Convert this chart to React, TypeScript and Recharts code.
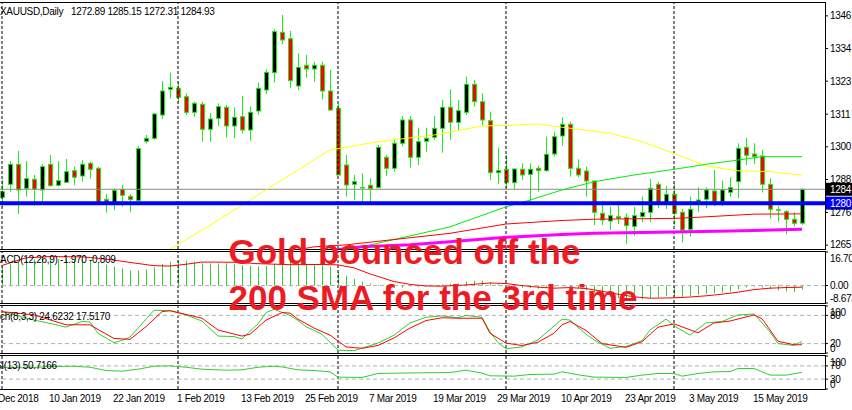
import React from "react";
import { ComposedChart, Bar, Line, XAxis, YAxis, ReferenceLine } from "recharts";

const FONT = '"Liberation Sans", Arial, sans-serif';
const EDGE = "#18ee18";
const OSC_GREEN = "#32cd32";

// XAUUSD daily bars, 2 Jan 2019 .. 23 May 2019
const opens = [
  1282.09, 1286.7, 1293.8, 1285.28, 1288.48, 1284.68, 1293.8, 1286.35, 1287.41, 1291.53,
  1289.65, 1294.16, 1292.38, 1281.38, 1279.96, 1284.93, 1282.44, 1280.88, 1301.97, 1303.03,
  1311.3, 1320.43, 1320.78, 1317.8, 1312.26, 1315.1, 1306.23, 1310.13, 1314.04, 1307.4,
  1310.7, 1305.98, 1312.72, 1320.18, 1326.32, 1340.66, 1338.39, 1321.6, 1328.95, 1327.63,
  1328.95, 1319.82, 1313.68, 1293.55, 1286.7, 1285.6, 1286.35, 1285.5, 1296.29, 1292.38,
  1301.26, 1309.53, 1296.29, 1301.97, 1303.39, 1306.58, 1314.04, 1308.71, 1312.26, 1322.2,
  1316.03, 1309.28, 1290.82, 1292.03, 1287.27, 1292.03, 1290.25, 1292.38, 1291.53, 1297.46,
  1303.85, 1308.0, 1292.38, 1291.42, 1287.87, 1276.41, 1273.67, 1275.2, 1274.99, 1271.72,
  1275.2, 1276.76, 1286.7, 1279.96, 1283.15, 1276.76, 1270.73, 1280.53, 1281.38, 1284.32,
  1280.53, 1283.86, 1287.63, 1299.84, 1297.46, 1296.75, 1286.7, 1277.69, 1276.98, 1274.28,
  1272.89,
];
const highs = [
  1288.23, 1294.97, 1298.52, 1294.97, 1290.0, 1293.91, 1297.1, 1294.97, 1295.68, 1292.95,
  1295.33, 1294.73, 1292.95, 1283.26, 1285.28, 1286.45, 1283.26, 1300.3, 1304.2, 1312.12,
  1323.37, 1326.32, 1322.91, 1319.01, 1316.03, 1316.03, 1312.01, 1315.46, 1314.85, 1314.04,
  1318.05, 1314.25, 1322.77, 1327.53, 1341.73, 1346.8, 1341.13, 1333.21, 1332.6, 1330.23,
  1330.23, 1327.28, 1315.21, 1297.1, 1290.0, 1290.61, 1288.83, 1300.65, 1297.1, 1302.43,
  1310.95, 1310.95, 1306.8, 1306.8, 1310.95, 1316.63, 1320.43, 1316.63, 1324.9, 1323.73,
  1319.01, 1312.48, 1299.7, 1297.1, 1292.38, 1294.16, 1294.16, 1293.31, 1303.6, 1305.38,
  1310.49, 1308.93, 1295.58, 1292.95, 1288.23, 1279.35, 1278.75, 1279.6, 1276.41, 1278.64,
  1282.37, 1288.58, 1287.63, 1286.1, 1287.06, 1277.93, 1282.3, 1285.64, 1285.64, 1291.78,
  1287.98, 1289.19, 1301.26, 1303.25, 1301.26, 1298.88, 1288.83, 1278.82, 1277.58, 1276.76,
  1285.15,
];
const lows = [
  1278.54, 1284.08, 1276.16, 1282.3, 1279.11, 1280.06, 1285.85, 1285.9, 1287.2, 1286.45,
  1287.63, 1288.58, 1280.3, 1276.62, 1277.58, 1278.75, 1276.76, 1279.96, 1301.26, 1302.43,
  1309.88, 1317.09, 1315.81, 1311.3, 1310.7, 1301.83, 1301.83, 1307.4, 1303.39, 1303.14,
  1304.81, 1302.18, 1311.3, 1318.76, 1322.77, 1336.4, 1320.78, 1320.18, 1324.69, 1323.13,
  1316.88, 1312.72, 1289.9, 1282.3, 1281.13, 1280.53, 1280.53, 1285.28, 1289.65, 1291.18,
  1300.05, 1292.6, 1293.55, 1298.28, 1302.43, 1297.92, 1302.43, 1305.98, 1311.3, 1314.25,
  1307.75, 1288.23, 1286.7, 1285.28, 1284.93, 1288.23, 1280.53, 1284.08, 1291.18, 1296.5,
  1300.41, 1289.4, 1289.19, 1282.3, 1272.25, 1272.25, 1270.48, 1272.61, 1265.51, 1268.46,
  1273.32, 1273.32, 1278.18, 1277.93, 1272.25, 1265.97, 1268.1, 1276.87, 1278.18, 1279.0,
  1279.0, 1282.3, 1281.73, 1293.55, 1293.91, 1283.79, 1274.63, 1273.43, 1268.95, 1271.65,
  1272.31,
];
const closes = [
  1284.07, 1293.8, 1284.68, 1288.69, 1284.93, 1292.95, 1286.21, 1287.98, 1291.18, 1289.19,
  1293.8, 1292.03, 1280.42, 1280.42, 1284.57, 1282.8, 1281.24, 1299.34, 1303.03, 1311.66,
  1319.82, 1321.14, 1317.59, 1312.26, 1315.46, 1306.23, 1309.88, 1314.25, 1307.4, 1310.49,
  1305.98, 1312.26, 1320.78, 1326.46, 1340.88, 1337.93, 1323.48, 1328.24, 1327.63, 1328.95,
  1319.82, 1313.08, 1290.0, 1286.45, 1287.63, 1285.4, 1285.14, 1299.84, 1292.38, 1301.26,
  1309.53, 1296.29, 1301.83, 1303.03, 1306.58, 1314.04, 1308.71, 1312.83, 1322.2, 1316.03,
  1309.53, 1290.82, 1291.53, 1287.27, 1292.13, 1290.0, 1292.03, 1291.53, 1297.35, 1303.6,
  1308.0, 1292.38, 1290.0, 1287.87, 1276.76, 1274.03, 1275.56, 1274.63, 1272.01, 1275.56,
  1276.69, 1285.28, 1279.6, 1283.15, 1276.41, 1270.48, 1277.83, 1281.13, 1284.68, 1280.53,
  1284.68, 1285.5, 1299.48, 1297.0, 1296.5, 1286.7, 1277.83, 1277.48, 1274.28, 1272.86,
  1284.93,
];

// date captions under the bottom pane, by bar index
const dateTickBars = [-2, 6, 14, 22, 30, 38, 46, 54, 62, 70, 78, 86, 94];
const dateTickLabels = [
  "28 Dec 2018", "10 Jan 2019", "22 Jan 2019", "1 Feb 2019", "13 Feb 2019", "25 Feb 2019",
  "7 Mar 2019", "19 Mar 2019", "29 Mar 2019", "10 Apr 2019", "23 Apr 2019", "3 May 2019",
  "15 May 2019",
];
// first bar of Jan, Feb, Mar, Apr, May (period separators)
const monthStartBars = [0, 22, 42, 63, 84];

const priceTicks = [1346.5, 1334.9, 1323.3, 1311.6, 1300.0, 1288.4, 1276.7, 1265.1];
const supportLevel = 1280;

// moving averages, [bar, price]
const maYellow = [
  [19, 1260.3], [21, 1263.7], [25, 1270.4], [31, 1281.1], [37, 1291.8], [41, 1298.9],
  [47, 1301.8], [54, 1304.2], [60, 1307.4], [64, 1307.7], [67, 1308.1], [71, 1306.6],
  [76, 1304.8], [80, 1301.8], [84, 1297.7], [88, 1293.2], [92, 1291.5], [96, 1291.2],
  [100, 1290.0],
];
const maGreen = [
  [43, 1262.6], [45, 1264.5], [56, 1271.6], [63, 1278.7], [66, 1281.1], [70, 1284.7],
  [74, 1287.6], [79, 1290.0], [84, 1292.0], [88, 1293.8], [92, 1295.3], [95, 1296.5],
  [100, 1296.5],
];
const maRed = [
  [37, 1263.5], [39, 1264.5], [43, 1265.2], [56, 1269.3], [63, 1272.6], [70, 1273.85],
  [74, 1274.3], [84, 1274.6], [87, 1275.0], [94, 1276.1], [100, 1276.2],
];
const sma200 = [
  [41, 1263.2], [45, 1264.5], [51, 1265.2], [56, 1266.3], [63, 1267.9], [70, 1268.9],
  [74, 1269.3], [82, 1269.7], [91, 1270.1], [100, 1270.7],
];

// MACD(12,26,9): main line per bar (histogram), signal line
const macdMain = [
  9.5, 10.8, 11.6, 12.4, 12.8, 13.2, 13.0, 13.1, 13.3, 13.0,
  12.9, 12.6, 11.5, 10.4, 9.4, 8.6, 7.4, 7.4, 8.1, 9.1,
  10.7, 11.9, 12.4, 12.4, 11.9, 11.1, 11.0, 11.0, 11.0, 10.6,
  10.2, 9.8, 9.4, 9.8, 10.7, 11.9, 12.2, 11.5, 10.9, 10.5,
  10.2, 9.4, 6.8, 4.9, 3.3, 2.0, 0.9, 0.4, -0.6, -1.2,
  -1.0, -0.5, -0.6, -0.4, 0.0, 0.6, 0.9, 1.1, 1.9, 2.4,
  2.5, 1.4, 0.6, -0.2, -0.7, -1.1, -1.3, -1.5, -1.2, -0.6,
  0.0, -0.8, -1.5, -2.3, -3.8, -4.9, -5.6, -6.2, -6.7, -6.9,
  -6.8, -6.1, -5.8, -5.3, -5.4, -5.6, -5.1, -4.6, -4.1, -3.7,
  -3.4, -3.0, -1.8, -1.0, -0.5, -0.9, -1.8, -2.4, -2.9, -3.2,
  -1.97,
];
const macdSignal = [
  [0, 10.0], [3, 13.8], [6, 14.4], [10, 14.3], [13, 13.2], [16, 11.5], [19, 9.9], [21, 9.7],
  [23, 10.6], [25, 11.7], [29, 11.6], [32, 10.9], [36, 10.4], [40, 10.5], [42, 10.3],
  [44, 8.8], [46, 5.8], [49, 2.0], [51, 0.6], [53, -0.2], [55, -0.3], [58, 0.3], [61, 1.3],
  [63, 1.0], [65, 0.0], [67, -0.8], [69, -1.3], [71, -1.0], [73, -1.5], [75, -2.8],
  [77, -4.3], [79, -5.6], [81, -6.3], [84, -6.1], [86, -5.7], [88, -5.1], [90, -4.3],
  [92, -3.3], [94, -2.0], [96, -1.3], [98, -1.0], [100, -0.809],
];
const macdTicks = [16.7, 0, -8.673];
const macdTickLabels = ["16.70", "0.00", "-8.673"];

// Stochastic(8,3,3)
const stochMain = [
  [0, 88], [4, 70], [6, 63], [8, 55], [10, 67], [11, 66], [12, 42], [14, 22], [15, 27],
  [16, 34], [19, 91], [21, 90], [23, 81], [25, 68], [27, 36], [29, 35], [30, 30], [32, 62],
  [33, 86], [34, 93], [36, 80], [37, 69], [38, 56], [40, 40], [42, 6], [44, 5], [47, 21],
  [49, 38], [51, 64], [53, 76], [55, 79], [57, 75], [58, 80], [60, 76], [61, 45], [62, 22],
  [63, 9], [65, 13], [67, 28], [70, 72], [71, 70], [73, 40], [74, 28], [76, 10], [78, 14],
  [80, 26], [81, 49], [83, 72], [84, 58], [86, 38], [88, 64], [90, 67], [92, 81], [94, 83],
  [96, 45], [97, 20], [99, 16], [100, 24.6232],
];
const stochSignal = [
  [0, 88], [4, 81], [8, 60], [11, 60], [12, 50], [14, 31], [16, 29], [18, 56], [20, 88],
  [21, 90], [25, 74], [27, 49], [30, 36], [31, 40], [33, 70], [35, 86], [36, 85], [37, 72],
  [39, 53], [41, 38], [43, 13], [45, 10], [47, 16], [49, 32], [51, 53], [53, 69], [55, 75],
  [57, 74], [60, 74], [61, 42], [63, 21], [65, 16], [67, 23], [69, 42], [70, 60], [71, 67],
  [73, 48], [75, 20], [78, 12], [80, 24], [82, 55], [84, 62], [87, 43], [89, 64], [91, 68],
  [94, 81], [95, 73], [97, 25], [99, 17.5], [100, 17.517],
];
const stochTicks = [100, 80, 20, 0];

// RSI(13)
const rsi13 = [
  [0, 66], [3, 64], [6, 68], [9, 69], [11, 66], [13, 56], [15, 54], [17, 60], [19, 69],
  [21, 70], [23, 66], [25, 60], [28, 57], [30, 58], [32, 66], [34, 69], [35, 67], [37, 58],
  [39, 56], [41, 52], [42, 36], [45, 35], [47, 47], [49, 48], [52, 49], [56, 50], [58, 57],
  [60, 48], [61, 40], [64, 39], [66, 44], [69, 45], [70, 52], [72, 43], [74, 36], [78, 35],
  [80, 42], [82, 47], [84, 47], [85, 39], [87, 47], [89, 52], [91, 53], [92, 62], [94, 62],
  [95, 52], [96, 42], [98, 42], [100, 50.7166],
];
const rsiTicks = [100, 70, 30, 0];

// 8 px per bar across the 825 px plot, first bar centred at x = 2
const xDomain: [number, number] = [-0.25, 102.875];
const priceDomain: [number, number] = [1263.73, 1351.06];

const byBar = (pts: number[][]) => new Map(pts.map(([b, v]) => [b, v]));
const yellowAt = byBar(maYellow);
const greenAt = byBar(maGreen);
const redAt = byBar(maRed);
const smaAt = byBar(sma200);
const sigAt = byBar(macdSignal);
const kAt = byBar(stochMain);
const dAt = byBar(stochSignal);
const rsiAt = byBar(rsi13);

const rows = opens.map((o, i) => ({
  i,
  o,
  h: highs[i],
  l: lows[i],
  c: closes[i],
  hl: [lows[i], highs[i]],
  maY: yellowAt.get(i),
  maG: greenAt.get(i),
  maR: redAt.get(i),
  sma: smaAt.get(i),
  macd: macdMain[i],
  sig: sigAt.get(i),
  k: kAt.get(i),
  d: dAt.get(i),
  rsi: rsiAt.get(i),
}));

const last = rows[rows.length - 1];
const lastOf = (pts: number[][]) => pts[pts.length - 1][1];

const smallText = { fontFamily: FONT, fontSize: 10, letterSpacing: -0.3 };

const Candle = (props: any) => {
  const { x, y, width, height, payload } = props;
  const { o, h, l, c } = payload;
  const cx = Math.round(x + width / 2) + 0.5;
  const top = Math.min(y, y + height);
  const span = Math.abs(height);
  const k = h === l ? 0 : span / (h - l);
  const yOf = (v: number) => top + (h - v) * k;
  const bodyTop = yOf(Math.max(o, c));
  const bodyBottom = yOf(Math.min(o, c));
  return (
    <g>
      <line x1={cx} x2={cx} y1={top} y2={top + span} stroke={EDGE} strokeWidth={1} />
      <rect
        x={cx - 2}
        y={bodyTop}
        width={4}
        height={Math.max(bodyBottom - bodyTop, 0.01)}
        fill={c > o ? "#000000" : "#ff0000"}
        stroke={EDGE}
        strokeWidth={1}
      />
    </g>
  );
};

const HistBar = (props: any) => {
  const { x, y, width, height } = props;
  const top = Math.min(y, y + height);
  return <rect x={Math.round(x + width / 2)} y={top} width={1} height={Math.abs(height)} fill={OSC_GREEN} />;
};

// right-hand scale labels, kept inside their pane
const sideTick = (fmt: (v: number, idx: number) => string, top: number, bottom: number) => (p: any) => {
  const ty = Math.min(Math.max(p.y, top + 6), bottom - 5);
  return (
    <text x={p.x} y={ty + 3.5} fill="#000" {...smallText}>
      {fmt(p.payload.value, p.index)}
    </text>
  );
};

const dateTick = (p: any) => {
  const idx = dateTickBars.indexOf(p.payload.value);
  return (
    <text x={p.x - 1} y={p.y + 12.5} fill="#000" {...smallText}>
      {dateTickLabels[idx]}
    </text>
  );
};

const priceTag = (bg: string, text: string) => (props: any) => {
  const vb = props.viewBox;
  const x = vb.x + vb.width + 1;
  return (
    <g>
      <rect x={x} y={vb.y - 6.5} width={27} height={13} fill={bg} />
      <text x={x + 4} y={vb.y + 3.5} fill="#fff" {...smallText}>
        {text}
      </text>
    </g>
  );
};

const separators = (prefix: string) =>
  monthStartBars.map((b) => (
    <ReferenceLine key={prefix + b} x={b} stroke="#000" strokeDasharray="3 2" />
  ));

const hiddenX = <XAxis type="number" dataKey="i" domain={xDomain} hide allowDataOverflow />;

const levelLine = (key: string, v: number) => (
  <ReferenceLine key={key} y={v} stroke="#b0b0b0" strokeDasharray="4 3" />
);

// pane plot areas in page coordinates: [top, bottom]
const paneFrames = [
  [3, 249],
  [252, 303],
  [306, 353],
  [356, 389],
];

export default function App() {
  return (
    <div style={{ position: "absolute", left: 0, top: 0, width: 852, height: 410, background: "#fff", overflow: "hidden" }}>
      {/* price pane */}
      <div style={{ position: "absolute", left: 0, top: 0 }}>
        <ComposedChart width={852} height={250} data={rows} margin={{ top: 3, right: 0, bottom: 1, left: 0 }}>
          {hiddenX}
          <YAxis
            orientation="right"
            width={27}
            domain={priceDomain}
            allowDataOverflow
            ticks={priceTicks}
            interval={0}
            axisLine={false}
            tickLine={{ stroke: "#000" }}
            tickSize={3}
            tickMargin={2}
            tick={sideTick((v) => String(Math.floor(v)), 3, 249)}
          />
          {separators("p")}
          <ReferenceLine
            y={last.c}
            stroke="#8c8c8c"
            label={priceTag("#000000", String(Math.floor(last.c)))}
          />
          <Bar dataKey="hl" barSize={5} shape={(p: any) => <Candle {...p} />} isAnimationActive={false} />
          <Line type="linear" dataKey="maY" stroke="#ffff00" strokeWidth={1} dot={false} connectNulls isAnimationActive={false} />
          <Line type="linear" dataKey="maG" stroke="#00ee00" strokeWidth={1} dot={false} connectNulls isAnimationActive={false} />
          <Line type="linear" dataKey="maR" stroke="#ff0000" strokeWidth={1} dot={false} connectNulls isAnimationActive={false} />
          <Line type="linear" dataKey="sma" stroke="#ff00ff" strokeWidth={3} dot={false} connectNulls isAnimationActive={false} />
          <ReferenceLine
            y={supportLevel}
            stroke="#0000ff"
            strokeWidth={4}
            label={priceTag("#0000ff", String(supportLevel))}
          />
        </ComposedChart>
      </div>

      {/* MACD pane */}
      <div style={{ position: "absolute", left: 0, top: 250 }}>
        <ComposedChart width={852} height={55} data={rows} margin={{ top: 2, right: 0, bottom: 2, left: 0 }}>
          {hiddenX}
          <YAxis
            orientation="right"
            width={27}
            domain={[-8.673, 16.7]}
            allowDataOverflow
            ticks={macdTicks}
            interval={0}
            axisLine={false}
            tickLine={{ stroke: "#000" }}
            tickSize={3}
            tickMargin={2}
            tick={sideTick((_v, idx) => macdTickLabels[idx], 2, 53)}
          />
          {separators("m")}
          {levelLine("zero", 0)}
          <Bar dataKey="macd" barSize={1} shape={(p: any) => <HistBar {...p} />} isAnimationActive={false} />
          <Line type="linear" dataKey="sig" stroke="#ff0000" strokeWidth={1} dot={false} connectNulls isAnimationActive={false} />
        </ComposedChart>
      </div>

      {/* stochastic pane */}
      <div style={{ position: "absolute", left: 0, top: 305 }}>
        <ComposedChart width={852} height={50} data={rows} margin={{ top: 1, right: 0, bottom: 2, left: 0 }}>
          {hiddenX}
          <YAxis
            orientation="right"
            width={27}
            domain={[0, 100]}
            ticks={stochTicks}
            interval={0}
            axisLine={false}
            tickLine={{ stroke: "#000" }}
            tickSize={3}
            tickMargin={2}
            tick={sideTick((v) => String(v), 1, 48)}
          />
          {separators("s")}
          {levelLine("s80", 80)}
          {levelLine("s20", 20)}
          <Line type="linear" dataKey="k" stroke={OSC_GREEN} strokeWidth={1} dot={false} connectNulls isAnimationActive={false} />
          <Line type="linear" dataKey="d" stroke="#ff0000" strokeWidth={1} dot={false} connectNulls isAnimationActive={false} />
        </ComposedChart>
      </div>

      {/* RSI pane with the date axis */}
      <div style={{ position: "absolute", left: 0, top: 355 }}>
        <ComposedChart width={852} height={56} data={rows} margin={{ top: 1, right: 0, bottom: 0, left: 0 }}>
          <XAxis
            type="number"
            dataKey="i"
            domain={xDomain}
            allowDataOverflow
            ticks={dateTickBars}
            interval={0}
            height={22}
            axisLine={false}
            tickLine={false}
            tickSize={0}
            tickMargin={0}
            tick={dateTick}
          />
          <YAxis
            orientation="right"
            width={27}
            domain={[0, 100]}
            ticks={rsiTicks}
            interval={0}
            axisLine={false}
            tickLine={{ stroke: "#000" }}
            tickSize={3}
            tickMargin={2}
            tick={sideTick((v) => String(v), 1, 34)}
          />
          {separators("r")}
          {levelLine("r70", 70)}
          {levelLine("r30", 30)}
          <Line type="linear" dataKey="rsi" stroke={OSC_GREEN} strokeWidth={1} dot={false} connectNulls isAnimationActive={false} />
        </ComposedChart>
      </div>

      {/* frames, captions and headline */}
      <svg width={852} height={410} style={{ position: "absolute", left: 0, top: 0, pointerEvents: "none" }}>
        {paneFrames.map(([t, b]) => (
          <rect key={t} x={-1} y={t - 0.5} width={826.5} height={b - t + 1} fill="none" stroke="#000" strokeWidth={1} />
        ))}
        <text x={0} y={14.5} fill="#000" {...smallText}>
          XAUUSD,Daily
        </text>
        <text x={71} y={14.5} fill="#000" {...smallText}>
          {[last.o, last.h, last.l, last.c].map((v) => v.toFixed(2)).join(" ")}
        </text>
        <text x={-8} y={263} fill="#000" {...smallText}>
          {`MACD(12,26,9) ${last.macd.toFixed(3)} ${lastOf(macdSignal).toFixed(3)}`}
        </text>
        <text x={-14} y={319.5} fill="#000" {...smallText}>
          {`Stoch(8,3,3) ${lastOf(stochMain).toFixed(4)} ${lastOf(stochSignal).toFixed(4)}`}
        </text>
        <text x={-12} y={368.5} fill="#000" {...smallText}>
          {`RSI(13) ${lastOf(rsi13).toFixed(4)}`}
        </text>
        <g fill="#ed1c24" fontFamily={FONT} fontWeight={700} fontSize={35}>
          <text x={228.5} y={264}>Gold bounced off the</text>
          <text x={228.5} y={309.5}>200 SMA for the 3rd time</text>
        </g>
      </svg>
    </div>
  );
}
